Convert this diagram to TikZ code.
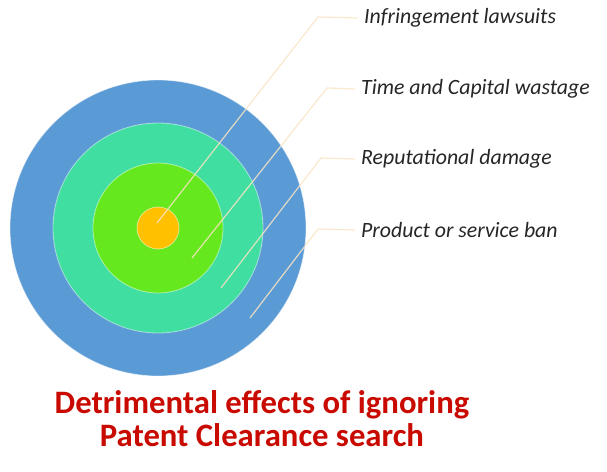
\documentclass[tikz,border=0pt]{standalone}
\usepackage{fontspec}
\setmainfont{Carlito}
\definecolor{ringA}{RGB}{91,155,213}
\definecolor{ringB}{RGB}{64,222,160}
\definecolor{ringC}{RGB}{102,232,30}
\definecolor{ringD}{RGB}{255,192,0}
\definecolor{leader}{RGB}{250,228,196}
\definecolor{titlered}{RGB}{200,10,0}
\tikzset{
  ring/.style={draw=white, draw opacity=0.5, line width=0.8pt},
  leaderline/.style={draw=leader, line width=1.2pt, opacity=0.85},
  lbl/.style={anchor=west, inner sep=0pt, text=black!85, font=\fontsize{21.8}{24}\selectfont\itshape},
  ttl/.style={align=center, text=titlered, font=\fontsize{32.7}{33}\selectfont\bfseries}
}
\begin{document}
\begin{tikzpicture}[x=1pt,y=-1pt]
\useasboundingbox (0,0) rectangle (607,471);
\fill[white] (0,0) rectangle (607,471);
\coordinate (c) at (158,228);
\fill[ringA, ring] (c) circle[radius=148pt];
\fill[ringB, ring] (c) circle[radius=105pt];
\fill[ringC, ring] (c) circle[radius=65pt];
\fill[ringD, ring] (c) circle[radius=21pt];
% labels
\node[lbl] (l1) at (364,18) {Infringement lawsuits};
\node[lbl] (l2) at (361,89) {Time and Capital wastage};
\node[lbl] (l3) at (361,159) {Reputational damage};
\node[lbl] (l4) at (361,230) {Product or service ban};
% leader anchors
\coordinate (s1) at (157,223);
\coordinate (k1) at (318,17);
\coordinate (s2) at (192,258);
\coordinate (k2) at (327,88);
\coordinate (s3) at (221,288);
\coordinate (k3) at (321,158);
\coordinate (s4) at (250,318);
\coordinate (k4) at (318,229);
\draw[leaderline] (s1) -- (k1) -- ([xshift=-6pt]l1.west);
\draw[leaderline] (s2) -- (k2) -- ([xshift=-6pt]l2.west);
\draw[leaderline] (s3) -- (k3) -- ([xshift=-6pt]l3.west);
\draw[leaderline] (s4) -- (k4) -- ([xshift=-6pt]l4.west);
% title
\node[ttl] (title) at (262,419) {Detrimental effects of ignoring\\Patent Clearance search};
\end{tikzpicture}
\end{document}
